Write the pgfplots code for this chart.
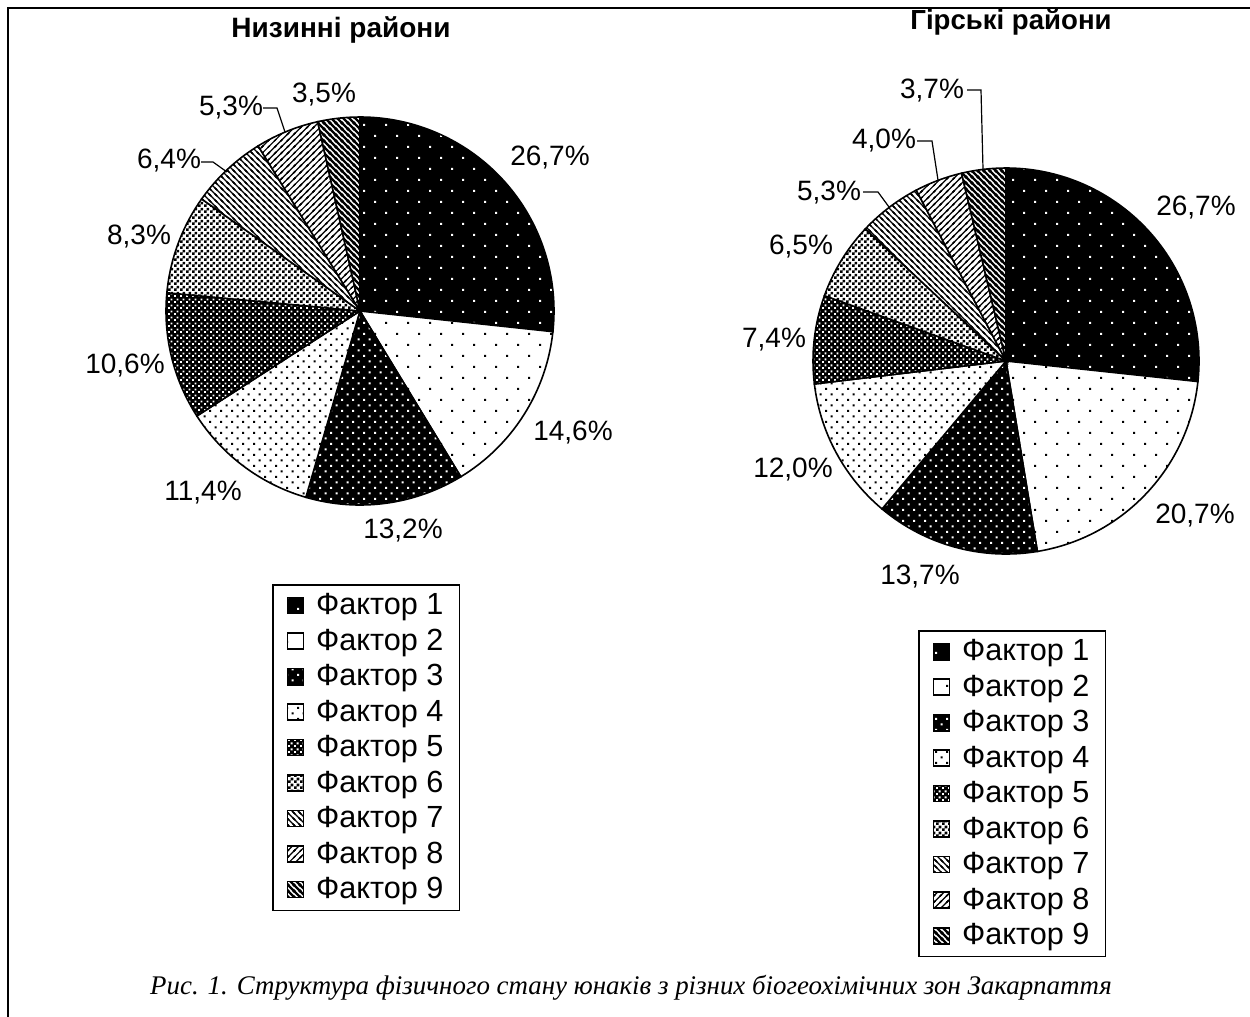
\documentclass[border=0pt]{standalone}
\usepackage{pgfplots}
\pgfplotsset{compat=1.18}
\usepackage{pgfplotstable}
\usetikzlibrary{patterns}
\usepackage{fontspec}
\setmainfont{Liberation Sans}
\newfontfamily\serifit{Liberation Serif}

% ---------- patterns ----------
\pgfdeclarepatternformonly{sparsedots}{\pgfqpoint{-1pt}{-1pt}}{\pgfqpoint{12pt}{12pt}}{\pgfqpoint{11pt}{11pt}}{%
  \pgfpathrectangle{\pgfqpoint{0pt}{0pt}}{\pgfqpoint{1.1pt}{1.1pt}}%
  \pgfpathrectangle{\pgfqpoint{5.5pt}{5.5pt}}{\pgfqpoint{1.1pt}{1.1pt}}%
  \pgfusepath{fill}}
\pgfdeclarepatternformonly{densedots}{\pgfqpoint{-1pt}{-1pt}}{\pgfqpoint{6.5pt}{6.5pt}}{\pgfqpoint{5.5pt}{5.5pt}}{%
  \pgfpathrectangle{\pgfqpoint{0pt}{0pt}}{\pgfqpoint{1.1pt}{1.1pt}}%
  \pgfpathrectangle{\pgfqpoint{2.75pt}{2.75pt}}{\pgfqpoint{1.1pt}{1.1pt}}%
  \pgfusepath{fill}}
\pgfdeclarepatternformonly{checker}{\pgfqpoint{0pt}{0pt}}{\pgfqpoint{3pt}{3pt}}{\pgfqpoint{3pt}{3pt}}{%
  \pgfpathrectangle{\pgfqpoint{0pt}{0pt}}{\pgfqpoint{1.5pt}{1.5pt}}%
  \pgfpathrectangle{\pgfqpoint{1.5pt}{1.5pt}}{\pgfqpoint{1.5pt}{1.5pt}}%
  \pgfusepath{fill}}
\pgfdeclarepatternformonly{smallholes}{\pgfqpoint{0pt}{0pt}}{\pgfqpoint{3pt}{3pt}}{\pgfqpoint{3pt}{3pt}}{%
  \pgfpathrectangle{\pgfqpoint{0pt}{0pt}}{\pgfqpoint{1.1pt}{1.1pt}}%
  \pgfpathrectangle{\pgfqpoint{1.5pt}{1.5pt}}{\pgfqpoint{1.1pt}{1.1pt}}%
  \pgfusepath{fill}}
\pgfdeclarepatternformonly{nwthin}{\pgfqpoint{-1pt}{-1pt}}{\pgfqpoint{4pt}{4pt}}{\pgfqpoint{3pt}{3pt}}{%
  \pgfsetlinewidth{0.6pt}%
  \pgfpathmoveto{\pgfqpoint{-0.5pt}{3.5pt}}\pgfpathlineto{\pgfqpoint{3.5pt}{-0.5pt}}%
  \pgfpathmoveto{\pgfqpoint{-0.5pt}{0.5pt}}\pgfpathlineto{\pgfqpoint{0.5pt}{-0.5pt}}%
  \pgfpathmoveto{\pgfqpoint{2.5pt}{3.5pt}}\pgfpathlineto{\pgfqpoint{3.5pt}{2.5pt}}%
  \pgfusepath{stroke}}
\pgfdeclarepatternformonly{nethin}{\pgfqpoint{-1pt}{-1pt}}{\pgfqpoint{4pt}{4pt}}{\pgfqpoint{3.2pt}{3.2pt}}{%
  \pgfsetlinewidth{0.6pt}%
  \pgfpathmoveto{\pgfqpoint{-0.5pt}{-0.5pt}}\pgfpathlineto{\pgfqpoint{3.7pt}{3.7pt}}%
  \pgfpathmoveto{\pgfqpoint{-0.5pt}{2.7pt}}\pgfpathlineto{\pgfqpoint{0.5pt}{3.7pt}}%
  \pgfpathmoveto{\pgfqpoint{2.7pt}{-0.5pt}}\pgfpathlineto{\pgfqpoint{3.7pt}{0.5pt}}%
  \pgfusepath{stroke}}
\pgfdeclarepatternformonly{nwthick}{\pgfqpoint{-1pt}{-1pt}}{\pgfqpoint{4pt}{4pt}}{\pgfqpoint{3pt}{3pt}}{%
  \pgfsetlinewidth{1.1pt}%
  \pgfpathmoveto{\pgfqpoint{-0.5pt}{3.5pt}}\pgfpathlineto{\pgfqpoint{3.5pt}{-0.5pt}}%
  \pgfpathmoveto{\pgfqpoint{-0.5pt}{0.5pt}}\pgfpathlineto{\pgfqpoint{0.5pt}{-0.5pt}}%
  \pgfpathmoveto{\pgfqpoint{2.5pt}{3.5pt}}\pgfpathlineto{\pgfqpoint{3.5pt}{2.5pt}}%
  \pgfusepath{stroke}}

\tikzset{
  f0/.style={preaction={fill=black}, pattern=sparsedots, pattern color=white},
  f1/.style={preaction={fill=white}, pattern=sparsedots, pattern color=black},
  f2/.style={preaction={fill=black}, pattern=densedots, pattern color=white},
  f3/.style={preaction={fill=white}, pattern=densedots, pattern color=black},
  f4/.style={preaction={fill=black}, pattern=smallholes, pattern color=white},
  f5/.style={preaction={fill=white}, pattern=checker, pattern color=black},
  f6/.style={preaction={fill=white}, pattern=nwthin, pattern color=black},
  f7/.style={preaction={fill=white}, pattern=nethin, pattern color=black},
  f8/.style={preaction={fill=white}, pattern=nwthick, pattern color=black},
  slice/.style={draw=black, line width=0.8pt},
  lbl/.style={font=\fontsize{14}{16}\selectfont, inner sep=0pt},
}

% ---------- data ----------
\pgfplotstableread{
val   lx    ly
26.7  550   158
14.6  573   433
13.2  403   531
11.4  203   493
10.6  125   366
8.3   139   237
6.4   169   161
5.3   231   108
3.5   324   95
}\lowtab
\pgfplotstableread{
val   lx    ly
26.7  1196  208
20.7  1195  516
13.7  920   577
12.0  793   470
7.4   774   340
6.5   801   247
5.3   829   193
4.0   884   141
3.7   932   91
}\hightab

\newcommand\drawpie[4]{%
  \pgfplotstablegetrowsof{#1}%
  \pgfmathtruncatemacro\pieN{\pgfplotsretval-1}%
  \gdef\piecum{0}%
  \pgfplotsforeachungrouped \pieI in {0,...,\pieN}{%
    \pgfplotstablegetelem{\pieI}{val}\of{#1}\let\pieV\pgfplotsretval
    \pgfmathsetmacro\pieA{90-3.6*\piecum}%
    \pgfmathsetmacro\piecumnew{\piecum+\pieV}%
    \global\let\piecum\piecumnew
    \pgfmathsetmacro\pieB{90-3.6*\piecum}%
    \edef\pietemp{%
      \noexpand\filldraw[slice, f\pieI] (axis cs:#2,#3) -- ++(\pieA:#4) arc[start angle=\pieA, end angle=\pieB, radius=#4] -- cycle;%
    }%
    \pietemp
  }%
  \pgfplotsforeachungrouped \pieI in {0,...,\pieN}{%
    \pgfplotstablegetelem{\pieI}{val}\of{#1}\let\pieV\pgfplotsretval
    \pgfplotstablegetelem{\pieI}{lx}\of{#1}\let\pieLX\pgfplotsretval
    \pgfplotstablegetelem{\pieI}{ly}\of{#1}\let\pieLY\pgfplotsretval
    \edef\pietemp{%
      \noexpand\node[lbl] at (axis cs:\pieLX,\pieLY) {\noexpand\pgfmathprintnumber[fixed,fixed zerofill,precision=1,use comma,assume math mode=true]{\pieV}\noexpand\%};%
    }%
    \pietemp
  }%
}

\pgfplotsset{
  pieaxis/.style={
    x=0.5pt, y=0.5pt, xmin=0, xmax=1250, ymin=0, ymax=1017, y dir=reverse,
    hide axis, clip=false, at={(0,0)}, anchor=origin,
    legend image code/.code={\draw[##1, line width=0.6pt] (0pt,-4pt) rectangle (8pt,4pt); \path (13pt,0pt);},
    legend cell align=left,
    legend style={draw=black, line width=0.8pt, font=\fontsize{15.3}{17}\selectfont,
      inner xsep=7pt, inner ysep=3.4pt, row sep=3.6pt, nodes={inner sep=1pt},
      anchor=north west},
  },
}

\begin{document}
\begin{tikzpicture}
\begin{axis}[pieaxis, legend style={at={(axis description cs:0.2176,0.4258)}}]
  \coordinate (TL) at (axis cs:0,0);
  \coordinate (BR) at (axis cs:1250,1017);
  \draw[line width=1.3pt] (axis cs:8,1017) -- (axis cs:8,8) -- (axis cs:1250,8);
  \drawpie{\lowtab}{360}{311}{97pt}
  \addplot[black, line width=0.6pt, mark=none, forget plot] coordinates {(201,162) (213,162) (227,172)};
  \addplot[black, line width=0.6pt, mark=none, forget plot] coordinates {(263,108) (277,108) (285,132)};
  \node[font=\bfseries\fontsize{14}{16}\selectfont] at (axis cs:341,30) {Низинні райони};
  \node[font=\serifit\itshape\fontsize{13.45}{15}\selectfont] at (axis cs:631,988) {Рис. 1. Структура фізичного стану юнаків з різних біогеохімічних зон Закарпаття};
  \addlegendimage{f0}\addlegendentry{Фактор 1}
  \addlegendimage{f1}\addlegendentry{Фактор 2}
  \addlegendimage{f2}\addlegendentry{Фактор 3}
  \addlegendimage{f3}\addlegendentry{Фактор 4}
  \addlegendimage{f4}\addlegendentry{Фактор 5}
  \addlegendimage{f5}\addlegendentry{Фактор 6}
  \addlegendimage{f6}\addlegendentry{Фактор 7}
  \addlegendimage{f7}\addlegendentry{Фактор 8}
  \addlegendimage{f8}\addlegendentry{Фактор 9}
\end{axis}
\begin{axis}[pieaxis, legend style={at={(axis description cs:0.7344,0.3805)}}]
  \drawpie{\hightab}{1006}{361}{96.5pt}
  \addplot[black, line width=0.6pt, mark=none, forget plot] coordinates {(863,192) (878,192) (889,207)};
  \addplot[black, line width=0.6pt, mark=none, forget plot] coordinates {(917,141) (932,141) (938,180)};
  \addplot[black, line width=0.6pt, mark=none, forget plot] coordinates {(967,90) (981,90) (983,169)};
  \node[font=\bfseries\fontsize{13.8}{16}\selectfont] at (axis cs:1011,22) {Гірські райони};
  \addlegendimage{f0}\addlegendentry{Фактор 1}
  \addlegendimage{f1}\addlegendentry{Фактор 2}
  \addlegendimage{f2}\addlegendentry{Фактор 3}
  \addlegendimage{f3}\addlegendentry{Фактор 4}
  \addlegendimage{f4}\addlegendentry{Фактор 5}
  \addlegendimage{f5}\addlegendentry{Фактор 6}
  \addlegendimage{f6}\addlegendentry{Фактор 7}
  \addlegendimage{f7}\addlegendentry{Фактор 8}
  \addlegendimage{f8}\addlegendentry{Фактор 9}
\end{axis}
\pgfresetboundingbox
\useasboundingbox (TL) rectangle (BR);
\end{tikzpicture}
\end{document}
